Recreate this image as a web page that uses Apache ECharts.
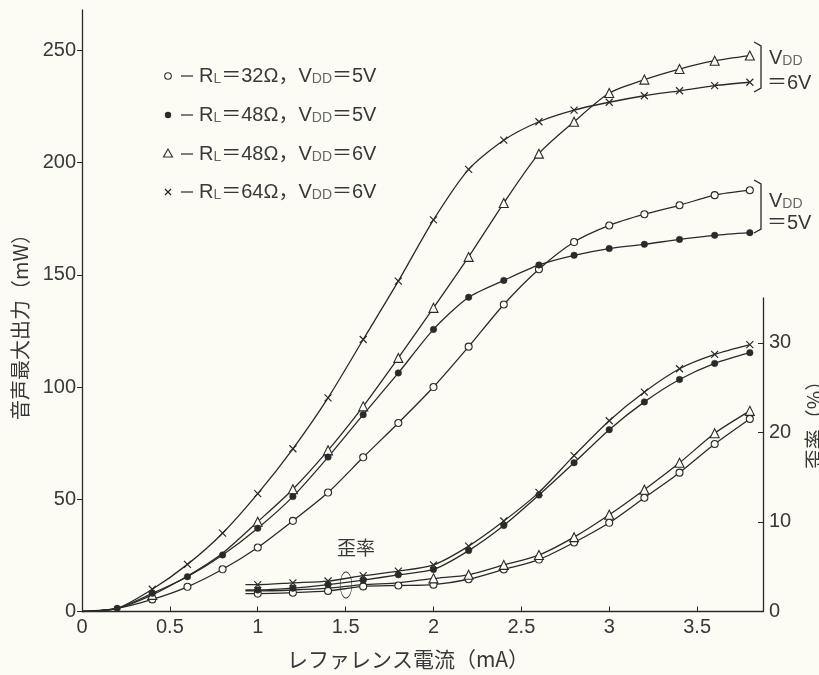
<!DOCTYPE html>
<html><head><meta charset="utf-8">
<script src="https://cdn.jsdelivr.net/npm/echarts@6/dist/echarts.min.js"></script>
<style>html,body{margin:0;padding:0;background:#fcfcf5;}#c{width:819px;height:675px;}</style>
</head><body><div id="c"></div>
<script>
// ---- data ----
const xTicks = [0, 0.5, 1, 1.5, 2, 2.5, 3, 3.5];
const yTicksPower = [0, 50, 100, 150, 200, 250];
const yTicksDist = [0, 10, 20, 30];
const xPower = [0.2,0.4,0.6,0.8,1.0,1.2,1.4,1.6,1.8,2.0,2.2,2.4,2.6,2.8,3.0,3.2,3.4,3.6,3.8];
const power32_5 = [1.4,5.4,11,18.8,28.5,40.4,53,68.7,84,100,118,136.8,152.5,164.6,172,177,181,185.5,187.7];
const power48_5 = [1.4,8.1,15.5,25.2,37.1,51.2,68.8,87.7,106.3,125.7,140,147.5,154.4,158.7,161.7,163.6,165.8,167.6,168.8];
const power48_6 = [1.4,7.4,15.8,26,40,54.5,71.8,91.4,113,135.3,158,182,204,218.2,231,237,241.7,245.4,247.7];
const power64_6 = [1.4,9.9,21,34.9,52.5,72.5,95.2,121.2,147.2,174.5,197,210,218.2,223.4,226.9,229.8,232,234.3,235.8];
const xDist = [0.93,1.0,1.2,1.4,1.6,1.8,2.0,2.2,2.4,2.6,2.8,3.0,3.2,3.4,3.6,3.8];
const dist32_5 = [2.0,2.0,2.1,2.3,2.8,2.9,3.0,3.6,4.7,5.8,7.7,9.9,12.7,15.5,18.7,21.5];
const dist48_5 = [2.4,2.4,2.6,3.0,3.5,4.1,4.7,6.8,9.6,13.0,16.6,20.3,23.4,25.9,27.7,28.9];
const dist48_6 = [2.3,2.3,2.4,2.6,3.0,3.2,3.7,4.1,5.2,6.3,8.3,10.8,13.6,16.6,19.9,22.4];
const dist64_6 = [3.0,3.0,3.2,3.4,4.0,4.5,5.2,7.3,10.1,13.3,17.4,21.3,24.5,27.1,28.7,29.8];

// ---- styling ----
const BG = '#fcfcf5', INK = '#2a2a2a', TXT = '#383838';
const LAT = 'Liberation Sans, Noto Sans CJK JP, sans-serif';
const CJK = 'Noto Sans CJK JP, sans-serif';
const XPATH = 'path://M0 0L10 10M10 0L0 10';
const SYM = {
  c32: {symbol: 'circle', symbolSize: 7, itemStyle: {color: BG, borderColor: INK, borderWidth: 1.1}},
  c48: {symbol: 'circle', symbolSize: 6.5, itemStyle: {color: INK, borderColor: INK, borderWidth: 0.5}},
  t48: {symbol: 'triangle', symbolSize: 9, itemStyle: {color: BG, borderColor: INK, borderWidth: 1.1}},
  x64: {symbol: XPATH, symbolSize: 7, itemStyle: {color: BG, borderColor: INK, borderWidth: 1.2}}
};
function series(name, xs, ys, key, axis, hidden) {
  const data = xs.map((x, i) => hidden.indexOf(i) >= 0 ? {value: [x, ys[i]], symbol: 'none'} : [x, ys[i]]);
  return Object.assign({
    name: name, type: 'line', smooth: 0.25, xAxisIndex: axis, yAxisIndex: axis,
    lineStyle: {color: INK, width: 1.3}, showSymbol: true, animation: false, z: 3,
    data: data
  }, SYM[key]);
}
const pX = [0].concat(xPower);
const pre = v => [0].concat(v);

const chart = echarts.init(document.getElementById('c'), null, {renderer: 'canvas'});
const axisLabelStyle = {color: TXT, fontSize: 20, fontFamily: LAT};
chart.setOption({
  backgroundColor: BG,
  animation: false,
  grid: [
    {left: 82, right: 56, top: 10, bottom: 63.5},
    {left: 82, right: 56, top: 298, bottom: 63.5}
  ],
  xAxis: [
    {type: 'value', gridIndex: 0, min: 0, max: 3.875,
     axisLine: {lineStyle: {color: INK, width: 1.3}},
     axisTick: {inside: true, length: 5, lineStyle: {color: INK}, customValues: xTicks},
     axisLabel: Object.assign({margin: 6, customValues: xTicks}, axisLabelStyle),
     splitLine: {show: false}},
    {type: 'value', gridIndex: 1, min: 0, max: 3.875, show: false}
  ],
  yAxis: [
    {type: 'value', gridIndex: 0, min: 0, max: 268,
     axisLine: {show: true, onZero: false, lineStyle: {color: INK, width: 1.3}},
     axisTick: {show: true, length: 5, lineStyle: {color: INK}, customValues: yTicksPower},
     axisLabel: Object.assign({margin: 6, customValues: yTicksPower}, axisLabelStyle),
     splitLine: {show: false}},
    {type: 'value', gridIndex: 1, position: 'right', min: 0, max: 35,
     axisLine: {show: true, onZero: false, lineStyle: {color: INK, width: 1.3}},
     axisTick: {show: true, inside: true, length: 5, lineStyle: {color: INK}, customValues: yTicksDist},
     axisLabel: Object.assign({margin: 6, customValues: yTicksDist}, axisLabelStyle),
     splitLine: {show: false}}
  ],
  series: [
    series('32Ω 5V', pX, pre(power32_5), 'c32', 0, [0, 1]),
    series('48Ω 6V', pX, pre(power48_6), 't48', 0, [0, 1, 3, 4]),
    series('64Ω 6V', pX, pre(power64_6), 'x64', 0, [0, 1]),
    series('48Ω 5V', pX, pre(power48_5), 'c48', 0, [0]),
    series('32Ω 5V', xDist, dist32_5, 'c32', 1, [0]),
    series('48Ω 6V', xDist, dist48_6, 't48', 1, [0, 1, 2, 3, 4, 5]),
    series('64Ω 6V', xDist, dist64_6, 'x64', 1, [0]),
    series('48Ω 5V', xDist, dist48_5, 'c48', 1, [0])
  ],
  graphic: (function () {
    const g = [];
    const rich = {
      n: {fontSize: 20, fontFamily: LAT, fill: TXT},
      s: {fontSize: 14, fontFamily: LAT, fill: '#666', verticalAlign: 'bottom', padding: [7, 0, 0, 0]}
    };
    const rows = [
      {y: 76, t: '{n|R}{s|L}{n|＝32Ω，V}{s|DD}{n|＝5V}'},
      {y: 115, t: '{n|R}{s|L}{n|＝48Ω，V}{s|DD}{n|＝5V}'},
      {y: 154, t: '{n|R}{s|L}{n|＝48Ω，V}{s|DD}{n|＝6V}'},
      {y: 192, t: '{n|R}{s|L}{n|＝64Ω，V}{s|DD}{n|＝6V}'}
    ];
    rows.forEach(r => {
      g.push({type: 'line', shape: {x1: 181, y1: r.y, x2: 193, y2: r.y}, style: {stroke: TXT, lineWidth: 1.3}});
      g.push({type: 'text', x: 199, y: r.y, style: {text: r.t, rich: rich, verticalAlign: 'middle', align: 'left'}});
    });
    g.push({type: 'circle', shape: {cx: 168, cy: 76, r: 3.3}, style: {fill: BG, stroke: INK, lineWidth: 1.1}});
    g.push({type: 'circle', shape: {cx: 168, cy: 115, r: 3.2}, style: {fill: INK}});
    g.push({type: 'polygon', shape: {points: [[168, 149], [163.5, 157], [172.5, 157]]}, style: {fill: BG, stroke: INK, lineWidth: 1.1}});
    g.push({type: 'polyline', shape: {points: [[165, 189], [171, 195]]}, style: {stroke: INK, lineWidth: 1.2}});
    g.push({type: 'polyline', shape: {points: [[171, 189], [165, 195]]}, style: {stroke: INK, lineWidth: 1.2}});
    // brackets
    [[42, 92], [180, 233]].forEach(b => {
      g.push({type: 'polyline', shape: {points: [[754, b[0]], [761, b[0] + 4], [761, b[1] - 4], [754, b[1]]]}, style: {stroke: INK, lineWidth: 1.3, fill: null}});
    });
    g.push({type: 'text', x: 769, y: 58, style: {text: '{n|V}{s|DD}', rich: rich, verticalAlign: 'middle'}});
    g.push({type: 'text', x: 767, y: 83, style: {text: '{n|＝6V}', rich: rich, verticalAlign: 'middle'}});
    g.push({type: 'text', x: 769, y: 201, style: {text: '{n|V}{s|DD}', rich: rich, verticalAlign: 'middle'}});
    g.push({type: 'text', x: 767, y: 223, style: {text: '{n|＝5V}', rich: rich, verticalAlign: 'middle'}});
    // annotation 歪率 with ellipse
    g.push({type: 'text', x: 356, y: 548, style: {text: '歪率', fontSize: 19, fontFamily: CJK, fill: TXT, align: 'center', verticalAlign: 'middle'}});
    g.push({type: 'circle', x: 346, y: 585, scaleX: 0.45, shape: {cx: 0, cy: 0, r: 13}, style: {fill: null, stroke: INK, lineWidth: 1.2}});
    // axis titles
    g.push({type: 'text', x: 408, y: 659, style: {text: 'レファレンス電流（mA）', fontSize: 21, fontFamily: CJK, fill: TXT, align: 'center', verticalAlign: 'middle'}});
    g.push({type: 'text', x: 20, y: 322, rotation: Math.PI / 2, style: {text: '音声最大出力（mW）', fontSize: 20, fontFamily: CJK, fill: TXT, align: 'center', verticalAlign: 'middle'}});
    g.push({type: 'text', x: 814, y: 420, rotation: Math.PI / 2, style: {text: '歪率（%）', fontSize: 20, fontFamily: CJK, fill: TXT, align: 'center', verticalAlign: 'middle'}});
    return g;
  })()
});
</script>
</body></html>
